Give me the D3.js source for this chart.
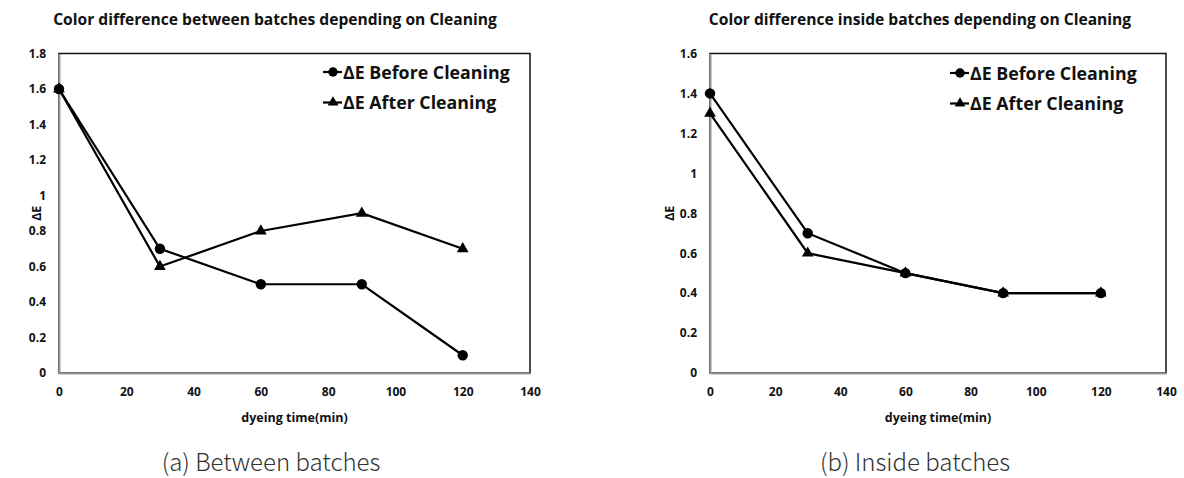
<!DOCTYPE html>
<html>
<head>
<meta charset="utf-8">
<script src="https://cdn.jsdelivr.net/npm/d3@7"></script>
<style>
  body { margin: 0; background: #fff; }
  svg { display: block; }
  .tick text { font-family: "Open Sans", "Noto Sans", sans-serif; font-weight: bold; font-size: 12px; fill: #111; }
</style>
</head>
<body>
<svg id="chart" width="1184" height="478"></svg>
<script>
var times = [0, 30, 60, 90, 120];
var xTicks = [0, 20, 40, 60, 80, 100, 120, 140];

// (a) between batches
var betweenBefore = [1.6, 0.7, 0.5, 0.5, 0.1];
var betweenAfter = [1.6, 0.6, 0.8, 0.9, 0.7];
var betweenTicks = [0, 0.2, 0.4, 0.6, 0.8, 1, 1.2, 1.4, 1.6, 1.8];

// (b) inside batches
var insideBefore = [1.4, 0.7, 0.5, 0.4, 0.4];
var insideAfter = [1.3, 0.6, 0.5, 0.4, 0.4];
var insideTicks = [0, 0.2, 0.4, 0.6, 0.8, 1, 1.2, 1.4, 1.6];

var seriesNames = ["\u0394E Before Cleaning", "\u0394E After Cleaning"];

var svg = d3.select("#chart");
var boldFont = "'Open Sans', 'Noto Sans', sans-serif";

var drawPanel = function(opt) {
  var g = svg.append("g");

  var xScale = d3.scaleLinear().domain([0, 140]).range([opt.left, opt.right]);
  var yScale = d3.scaleLinear().domain([0, opt.yMax]).range([opt.bottom, opt.top]);

  // chart title
  g.append("text")
    .attr("x", opt.titleX).attr("y", 25)
    .attr("text-anchor", "middle")
    .style("font-family", boldFont)
    .style("font-weight", "bold").style("font-size", "15.6px").style("fill", "#111")
    .text(opt.title);

  // plot frame (top/right black, axes gray drawn on top)
  g.append("rect")
    .attr("x", opt.left).attr("y", opt.top)
    .attr("width", opt.right - opt.left).attr("height", opt.bottom - opt.top)
    .attr("fill", "none").attr("stroke", "#111").attr("stroke-width", 1.5);

  var xAxis = g.append("g")
    .attr("transform", "translate(0," + opt.bottom + ")")
    .call(d3.axisBottom(xScale).tickValues(xTicks).tickSize(0).tickPadding(14));
  xAxis.select(".domain").attr("stroke", "#999").attr("stroke-width", 2);

  var yAxis = g.append("g")
    .attr("transform", "translate(" + opt.left + ",0)")
    .call(d3.axisLeft(yScale).tickValues(opt.yTicks).tickSize(0).tickPadding(13)
      .tickFormat(function(d) { return d3.format("")(+d.toFixed(1)); }));
  yAxis.select(".domain").attr("stroke", "#999").attr("stroke-width", 2);

  // axis titles
  g.append("text")
    .attr("x", (opt.left + opt.right) / 2).attr("y", 422)
    .attr("text-anchor", "middle")
    .style("font-family", boldFont)
    .style("font-weight", "bold").style("font-size", "12.5px").style("fill", "#111")
    .text("dyeing time(min)");

  g.append("text")
    .attr("transform", "translate(" + opt.yTitleX + "," + ((opt.top + opt.bottom) / 2) + ") rotate(-90)")
    .attr("text-anchor", "middle")
    .attr("dy", "0.35em")
    .style("font-family", boldFont)
    .style("font-weight", "bold").style("font-size", "12.5px").style("fill", "#111")
    .text("\u0394E");

  var line = d3.line()
    .x(function(d, i) { return xScale(times[i]); })
    .y(function(d) { return yScale(d); });

  [opt.before, opt.after].forEach(function(vals, si) {
    g.append("path")
      .datum(vals)
      .attr("d", line)
      .attr("fill", "none").attr("stroke", "#000").attr("stroke-width", 2.2);

    var sym = si == 0 ? d3.symbolCircle : d3.symbolTriangle;
    g.selectAll(".m" + si)
      .data(vals)
      .enter()
      .append("path")
      .attr("transform", function(d, i) {
        return "translate(" + xScale(times[i]) + "," + yScale(d) + ")";
      })
      .attr("d", d3.symbol().type(sym).size(si == 0 ? 85 : 60))
      .attr("fill", "#000");
  });

  // legend
  seriesNames.forEach(function(name, i) {
    var ly = opt.legendY + i * 30.5;
    g.append("line")
      .attr("x1", opt.legendX).attr("x2", opt.legendX + 19)
      .attr("y1", ly).attr("y2", ly)
      .attr("stroke", "#000").attr("stroke-width", 2.2);
    g.append("path")
      .attr("transform", "translate(" + (opt.legendX + 10) + "," + ly + ")")
      .attr("d", d3.symbol().type(i == 0 ? d3.symbolCircle : d3.symbolTriangle).size(i == 0 ? 70 : 50))
      .attr("fill", "#000");
    g.append("text")
      .attr("x", opt.legendX + 20).attr("y", ly + 6.5)
      .style("font-family", boldFont)
      .style("font-weight", "bold").style("font-size", "17.8px").style("fill", "#111")
      .text(name);
  });

  // caption
  g.append("text")
    .attr("x", opt.captionX).attr("y", 471)
    .attr("text-anchor", "middle")
    .style("font-family", "'Noto Sans CJK KR', 'Noto Sans', sans-serif")
    .style("font-weight", 300).style("font-size", "24px").style("fill", "#333")
    .text(opt.caption);
};

drawPanel({
  left: 59, right: 530, top: 53.5, bottom: 373, yMax: 1.8, yTicks: betweenTicks,
  before: betweenBefore, after: betweenAfter, yTitleX: 37,
  title: "Color difference between batches depending on Cleaning", titleX: 275,
  legendX: 323, legendY: 72, caption: "(a) Between batches", captionX: 271
});

drawPanel({
  left: 710, right: 1166, top: 53.5, bottom: 373, yMax: 1.6, yTicks: insideTicks,
  before: insideBefore, after: insideAfter, yTitleX: 670,
  title: "Color difference inside batches depending on Cleaning", titleX: 920,
  legendX: 950, legendY: 73, caption: "(b) Inside batches", captionX: 915
});
</script>
</body>
</html>
